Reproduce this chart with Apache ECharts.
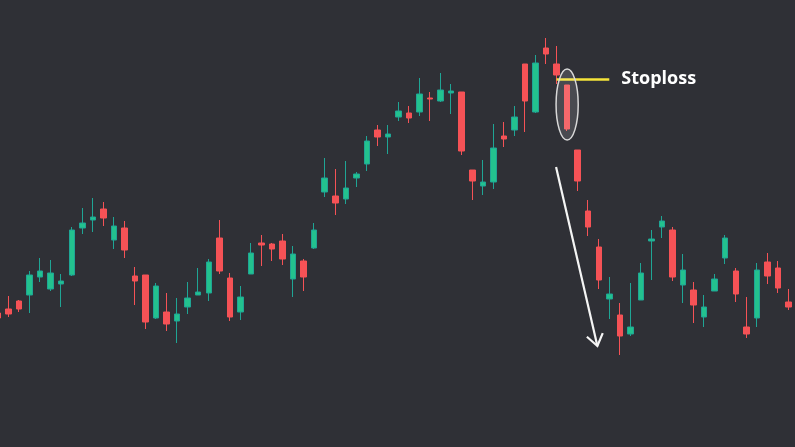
<!DOCTYPE html>
<html><head><meta charset="utf-8">
<script src="https://cdn.jsdelivr.net/npm/echarts@6/dist/echarts.min.js"></script>
<style>html,body{margin:0;padding:0;background:#2f3036;}#c{width:795px;height:447px;}</style>
</head><body><div id="c"></div>
<script>
const opens  = [134,138,146,152,170,158,163,172,219,227,238,207,219,171,172,129,135,126,140,152,154,209,169,135,173,204,203,206,168,186,199,255,251,248,269,283,317,310,330,334,335,349,346,354,355,277,261,265,311,317,383,335,399,383,362,297,236,200,148,132,113,147,206,220,217,162,157,130,156,189,176,120,129,185,179,145];
const closes = [129,133,138,172,176,174,166,217,224,230,229,221,197,166,125,161,123,133,149,155,185,176,130,150,194,202,198,188,193,170,217,269,244,259,273,306,310,313,336,329,353,348,357,356,296,266,265,299,308,330,346,384,393,372,318,266,220,167,153,111,120,174,208,226,170,177,142,140,168,209,153,113,177,171,159,140];
const lows   = [128,130,135,134,165,156,140,171,213,215,221,198,189,142,118,128,116,104,133,152,146,173,126,127,173,181,186,182,150,156,198,250,232,243,260,276,301,293,326,324,331,326,345,333,292,247,252,258,300,311,315,334,383,363,316,256,211,158,128,92,111,147,167,209,166,144,124,120,156,183,145,109,120,163,154,137];
const highs  = [136,151,147,176,189,187,173,220,239,249,245,230,226,180,172,164,154,149,165,179,188,227,174,161,204,212,204,213,201,188,224,289,278,286,275,311,322,322,345,341,369,355,374,363,355,277,287,323,325,341,383,392,409,401,362,297,247,208,170,144,164,184,217,231,220,193,165,152,173,212,179,150,184,194,186,158];
const days = opens.map((_, i) => i + 1);

// annotations (data space: day, price)
const stopLevel = 368, stopFromDay = 54, stopToDay = 59, stopText = 'Stoploss';
const highlightDay = 55, highlightTop = 378, highlightBottom = 307;
const arrowStart = [53.95, 280], arrowEnd = [57.87, 101];

(function () {
const chart = echarts.init(document.getElementById('c'), null, {renderer: 'canvas'});
const ohlc = days.map((d, i) => [d, opens[i], closes[i], lows[i], highs[i]]);
chart.setOption({
  backgroundColor: '#2f3036',
  animation: false,
  grid: {left: 0, right: 0, top: 0, bottom: 0},
  xAxis: {type: 'value', min: 1.19, max: 76.62, show: false},
  yAxis: {type: 'value', min: 0, max: 447, show: false},
  series: [{
    type: 'candlestick',
    data: ohlc,
    encode: {x: 0, y: [1, 2, 3, 4]},
    barWidth: 6,
    clip: false,
    itemStyle: {
      color: '#23c28e', color0: '#f55256',
      borderColor: '#1fa595', borderColor0: '#f55256',
      borderWidth: 1
    },
    markLine: {
      silent: true,
      symbol: 'none',
      animation: false,
      lineStyle: {color: '#f6e43a', width: 2.5, type: 'solid'},
      label: {
        show: true, position: 'end', formatter: stopText, distance: 12,
        color: '#ffffff', fontSize: 18, fontWeight: 'bold', fontFamily: 'Open Sans'
      },
      data: [[{coord: [stopFromDay, stopLevel]}, {coord: [stopToDay, stopLevel]}]]
    }
  }]
});

function px(day, price) {
  return chart.convertToPixel({gridIndex: 0}, [day, price]);
}
const band = px(highlightDay + 1, 0)[0] - px(highlightDay, 0)[0];
const pTop = px(highlightDay, highlightTop), pBot = px(highlightDay, highlightBottom);
const s = px(arrowStart[0], arrowStart[1]), e = px(arrowEnd[0], arrowEnd[1]);
const ang = Math.atan2(s[1] - e[1], s[0] - e[0]);
const L = 14, spread = 0.62;
const a1 = [e[0] + L * Math.cos(ang + spread), e[1] + L * Math.sin(ang + spread)];
const a2 = [e[0] + L * Math.cos(ang - spread), e[1] + L * Math.sin(ang - spread)];
chart.setOption({
  graphic: [
    {type: 'ellipse', z: 100, shape: {cx: pTop[0], cy: (pTop[1] + pBot[1]) / 2, rx: band * 1.05, ry: (pBot[1] - pTop[1]) / 2},
     style: {fill: 'rgba(255,255,255,0.13)', stroke: '#d8d8d8', lineWidth: 1.5}},
    {type: 'polyline', z: 100, shape: {points: [s, e]}, style: {stroke: '#f5f5f5', lineWidth: 2.2, fill: null}},
    {type: 'polyline', z: 100, shape: {points: [a1, e, a2]}, style: {stroke: '#f5f5f5', lineWidth: 2.2, fill: null, lineJoin: 'miter'}}
  ]
});
})();
</script></body></html>
